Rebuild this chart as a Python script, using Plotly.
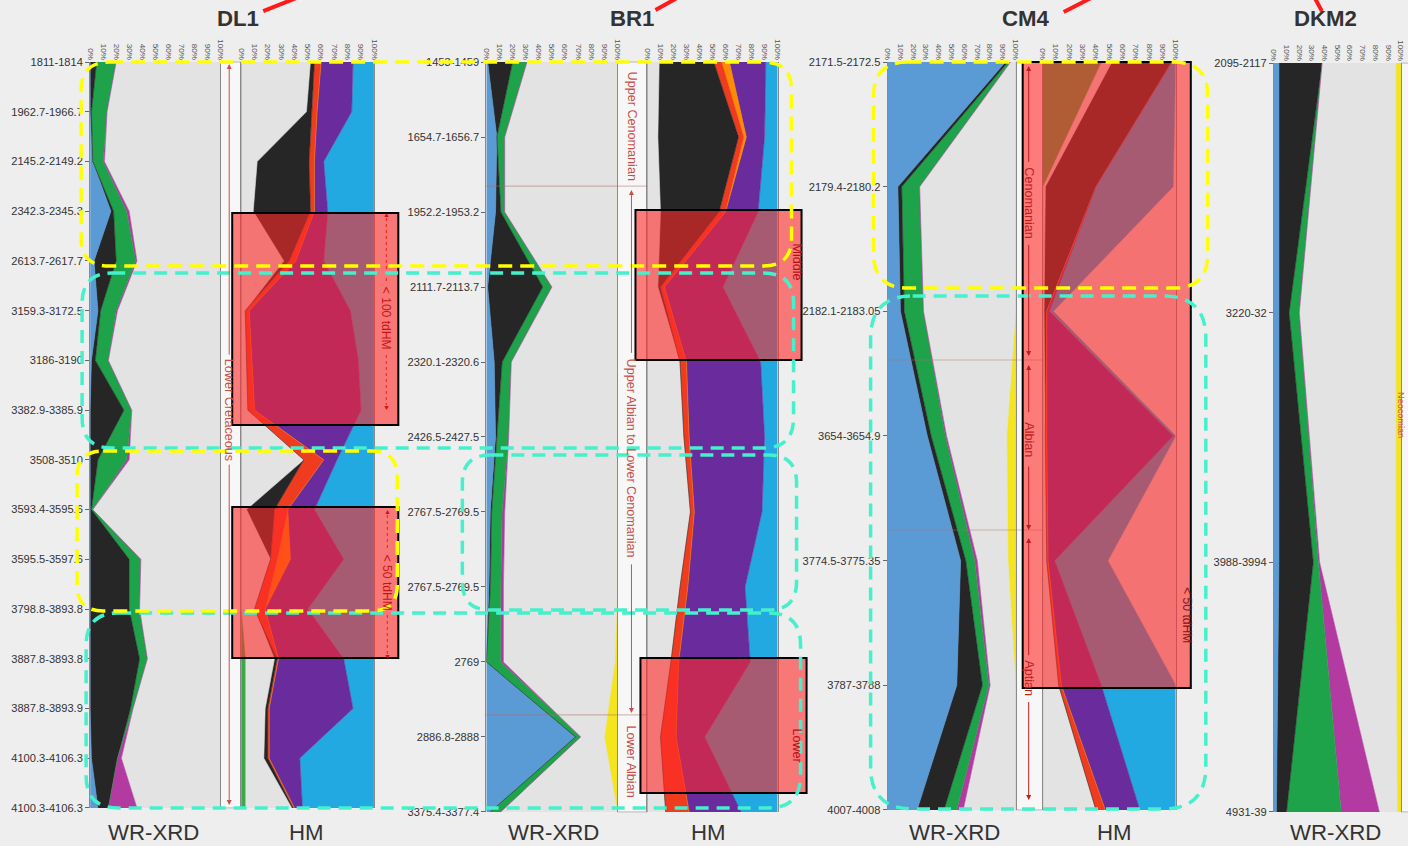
import plotly.graph_objects as go

W, H = 1408, 846

# ---------------- data ----------------
pct_ticks = [0, 10, 20, 30, 40, 50, 60, 70, 80, 90, 100]
pct_labels = ["0%", "10%", "20%", "30%", "40%", "50%", "60%", "70%", "80%", "90%", "100%"]

dl1_depths = ["1811-1814", "1962.7-1966.7", "2145.2-2149.2", "2342.3-2345.3", "2613.7-2617.7",
              "3159.3-3172.5", "3186-3190", "3382.9-3385.9", "3508-3510", "3593.4-3595.6",
              "3595.5-3597.6", "3798.8-3893.8", "3887.8-3893.8", "3887.8-3893.9",
              "4100.3-4106.3", "4100.3-4106.3"]
br1_depths = ["1453-1459", "1654.7-1656.7", "1952.2-1953.2", "2111.7-2113.7", "2320.1-2320.6",
              "2426.5-2427.5", "2767.5-2769.5", "2767.5-2769.5", "2769", "2886.8-2888",
              "3375.4-3377.4"]
cm4_depths = ["2171.5-2172.5", "2179.4-2180.2", "2182.1-2183.05", "3654-3654.9",
              "3774.5-3775.35", "3787-3788", "4007-4008"]
dkm2_depths = ["2095-2117", "3220-32", "3988-3994", "4931-39"]

# WR-XRD components (%), left to right
dl1_wr_blue = [0, 0, 2, 16, 3, 6, 1, 0, 0, 0, 0, 0, 0, 0, 1, 6]
dl1_wr_black = [5, 1, 0, 2, 17, 2, 3, 26, 6, 1, 30, 30, 38, 31, 20, 8]
dl1_wr_green = [15, 12, 8, 10, 15, 12, 10, 6, 22, 1, 9, 8, 6, 2, 0, 0]
dl1_wr_magenta = [0, 0, 1, 2, 1, 1, 0, 0, 2, 0, 0, 0, 0, 0, 3, 22]
dl1_wr_grey = [80, 87, 89, 70, 64, 79, 86, 68, 70, 98, 61, 62, 56, 67, 76, 64]
dl1_wr_yellow = [0, 0, 0, 0, 0, 0, 0, 0, 0, 0, 0, 0, 0, 0, 0, 0]

br1_wr_blue = [1, 8, 7, 1, 6, 7, 3, 2, 0, 68, 3]
br1_wr_black = [19, 0, 4, 42, 6, 1, 1, 1, 0, 0, 0]
br1_wr_green = [11, 6, 3, 7, 7, 9, 8, 8, 11, 4, 8]
br1_wr_magenta = [0, 0, 0, 0, 0, 0, 2, 2, 2, 0, 0]
br1_wr_grey = [69, 86, 86, 50, 81, 83, 86, 87, 85, 18, 89]
br1_wr_yellow = [0, 0, 0, 0, 0, 0, 0, 0, 2, 10, 0]

cm4_wr_blue = [92, 8, 10, 31, 57, 54, 23]
cm4_wr_black = [2, 3, 3, 3, 4, 20, 21]
cm4_wr_green = [2, 14, 15, 11, 7, 5, 10]
cm4_wr_magenta = [0, 0, 0, 1, 2, 1, 5]
cm4_wr_grey = [4, 75, 72, 47, 24, 20, 41]
cm4_wr_yellow = [0, 0, 0, 7, 6, 0, 0]

dkm2_wr_blue = [4, 4, 4, 2]
dkm2_wr_black = [34, 8, 27, 8]
dkm2_wr_green = [0, 8, 4, 43]
dkm2_wr_magenta = [0, 0, 1, 30]
dkm2_wr_grey = [58, 76, 60, 14]
dkm2_wr_yellow = [4, 4, 4, 3]

# HM components (%), left to right
dl1_hm_green = [0, 0, 0, 0, 0, 0, 0, 0, 0, 0, 0, 0, 3, 3, 3, 3]
dl1_hm_grey = [52, 49, 12, 9, 32, 3, 4, 5, 47, 4, 22, 10, 22, 15, 14, 35]
dl1_hm_black = [3, 4, 39, 43, 4, 0, 0, 0, 0, 21, 0, 0, 2, 2, 3, 1]
dl1_hm_red = [5, 4, 4, 3, 5, 3, 4, 5, 15, 10, 5, 8, 1, 1, 1, 1]
dl1_hm_orange = [0, 0, 0, 0, 0, 0, 0, 0, 0, 0, 10, 0, 0, 0, 0, 0]
dl1_hm_purple = [24, 26, 7, 10, 21, 76, 80, 80, 10, 20, 40, 32, 49, 63, 23, 6]
dl1_hm_blue = [16, 17, 38, 35, 38, 18, 12, 10, 28, 45, 23, 50, 23, 16, 56, 54]
dl1_hm_light = [0, 0, 0, 0, 0, 0, 0, 0, 0, 0, 0, 0, 0, 0, 0, 0]

br1_hm_green = [0, 0, 0, 0, 0, 0, 0, 0, 0, 0, 0]
br1_hm_grey = [9, 8, 10, 8, 25, 28, 33, 25, 18, 10, 14]
br1_hm_black = [42, 62, 45, 2, 0, 0, 0, 0, 0, 0, 0]
br1_hm_red = [6, 4, 5, 3, 5, 4, 3, 6, 6, 12, 18]
br1_hm_orange = [6, 2, 0, 0, 0, 0, 0, 0, 0, 0, 0]
br1_hm_purple = [28, 14, 25, 45, 57, 58, 52, 44, 55, 22, 40]
br1_hm_blue = [9, 10, 15, 42, 13, 10, 12, 25, 21, 56, 28]
br1_hm_light = [0, 0, 0, 0, 0, 0, 0, 0, 0, 0, 0]

cm4_hm_green = [44, 0, 0, 0, 0, 0, 0]
cm4_hm_grey = [8, 2, 1, 2, 3, 12, 40]
cm4_hm_black = [45, 38, 2, 0, 0, 0, 0]
cm4_hm_red = [0, 0, 0, 1, 1, 2, 7]
cm4_hm_orange = [0, 0, 0, 0, 0, 0, 0]
cm4_hm_purple = [0, 0, 2, 95, 5, 30, 26]
cm4_hm_blue = [3, 58, 3, 2, 40, 56, 27]
cm4_hm_light = [0, 2, 92, 0, 51, 0, 0]

wr_colors = ["#5b9bd5", "#262626", "#1ea34a", "#b23aa0", "#e3e3e3", "#f5e51e"]
hm_colors = ["#3aaa48", "#e3e3e3", "#262626", "#f03c1e", "#ff8c00", "#6a2c9c", "#22a9e1", "#e6e2e2"]

# ---------------- helpers ----------------
# the photographed page comes out slightly shrunk around its centre; compensate
SX, SY = 0.993, 0.986
CX, CY = W / 2, H / 2


def X(x):
    return (CX + (x - CX) / SX) / W


def Y(y):
    return 1 - (CY + (y - CY) / SY) / H


def clamp(v):
    return max(0.0, min(1.0, v))


def fs(size):
    return size / 0.99


fig = go.Figure()

panels = [
    ("dl1_wr", dl1_depths, [dl1_wr_blue, dl1_wr_black, dl1_wr_green, dl1_wr_magenta, dl1_wr_grey, dl1_wr_yellow], wr_colors, (90, 220, 62, 808), True),
    ("dl1_hm", dl1_depths, [dl1_hm_green, dl1_hm_grey, dl1_hm_black, dl1_hm_red, dl1_hm_orange, dl1_hm_purple, dl1_hm_blue, dl1_hm_light], hm_colors, (241, 374, 62, 808), False),
    ("br1_wr", br1_depths, [br1_wr_blue, br1_wr_black, br1_wr_green, br1_wr_magenta, br1_wr_grey, br1_wr_yellow], wr_colors, (486, 617, 62, 812), True),
    ("br1_hm", br1_depths, [br1_hm_green, br1_hm_grey, br1_hm_black, br1_hm_red, br1_hm_orange, br1_hm_purple, br1_hm_blue, br1_hm_light], hm_colors, (647, 777, 62, 812), False),
    ("cm4_wr", cm4_depths, [cm4_wr_blue, cm4_wr_black, cm4_wr_green, cm4_wr_magenta, cm4_wr_grey, cm4_wr_yellow], wr_colors, (887, 1015, 62, 810), True),
    ("cm4_hm", cm4_depths, [cm4_hm_green, cm4_hm_grey, cm4_hm_black, cm4_hm_red, cm4_hm_orange, cm4_hm_purple, cm4_hm_blue, cm4_hm_light], hm_colors, (1042, 1175, 62, 810), False),
    ("dkm2_wr", dkm2_depths, [dkm2_wr_blue, dkm2_wr_black, dkm2_wr_green, dkm2_wr_magenta, dkm2_wr_grey, dkm2_wr_yellow], wr_colors, (1273, 1400, 63, 812), True),
]

layout_axes = {}
for n, (key, depths, series, colors, box, ticks) in enumerate(panels, 1):
    xa = "x" if n == 1 else f"x{n}"
    ya = "y" if n == 1 else f"y{n}"
    ys = list(range(len(depths)))
    for vals, col in zip(series, colors):
        fig.add_trace(go.Scatter(
            x=vals, y=ys, xaxis=xa, yaxis=ya, mode="lines",
            stackgroup=key, orientation="h", groupnorm="percent",
            line=dict(color=col, width=0.6), fillcolor=col,
            hoverinfo="skip", showlegend=False))
    x0, x1, y0, y1 = box
    layout_axes["xaxis" if n == 1 else f"xaxis{n}"] = dict(
        domain=[clamp(X(x0)), clamp(X(x1))], range=[0, 100], anchor=ya, side="top",
        tickmode="array", tickvals=pct_ticks, ticktext=pct_labels, tickangle=90,
        tickfont=dict(size=fs(8), color="#555555", family="Liberation Sans"),
        showgrid=False, zeroline=False, showline=False, ticks="", fixedrange=True)
    layout_axes["yaxis" if n == 1 else f"yaxis{n}"] = dict(
        domain=[clamp(Y(y1)), clamp(Y(y0))], range=[len(depths) - 1, 0], anchor=xa,
        tickmode="array", tickvals=ys, ticktext=depths,
        showticklabels=ticks, ticks="outside" if ticks else "", ticklen=4, tickcolor="#666666",
        tickfont=dict(size=fs(11), color="#333333", family="Liberation Sans"),
        showgrid=False, zeroline=False, showline=True, linecolor="#8a8a8a", linewidth=1,
        mirror=True, fixedrange=True)

shapes = []
# stratigraphy columns
for (cx0, cx1, cy0, cy1) in [(220, 241, 62, 808), (617, 647, 62, 812), (1015, 1042, 62, 810), (1400, 1412, 63, 812)]:
    shapes.append(dict(type="rect", xref="paper", yref="paper", x0=X(cx0), x1=X(cx1), y0=Y(cy1), y1=Y(cy0),
                       fillcolor="#f7f7f7", line=dict(color="#b8b8b8", width=1), layer="below"))

# faint stratigraphic boundaries
for (bx0, bx1, by) in [(486, 647, 186), (486, 647, 715), (887, 1042, 360), (887, 1042, 530)]:
    shapes.append(dict(type="line", xref="paper", yref="paper", x0=X(bx0), x1=X(bx1), y0=Y(by), y1=Y(by),
                       line=dict(color="rgba(170,110,100,0.45)", width=1.2), layer="above"))

# tdHM dotted guides
for (gx, gy0, gy1) in [(386, 218, 282), (386, 355, 405), (387, 515, 550), (387, 615, 655)]:
    shapes.append(dict(type="line", xref="paper", yref="paper", x0=X(gx), x1=X(gx), y0=Y(gy0), y1=Y(gy1),
                       line=dict(color="#c81414", width=1, dash="dot"), layer="above"))

# red overlay boxes
for (rx0, ry0, rx1, ry1) in [(232, 213, 398, 425), (232, 507, 398, 658), (635, 210, 801, 360),
                             (640, 658, 806, 793), (1022, 62, 1190, 688)]:
    shapes.append(dict(type="rect", xref="paper", yref="paper", x0=X(rx0), x1=X(rx1), y0=Y(ry1), y1=Y(ry0),
                       fillcolor="rgba(255,40,40,0.6)", line=dict(color="#000000", width=2), layer="above"))


def rrect(x0, y0, x1, y1, r):
    return (f"M {X(x0 + r)},{Y(y0)} L {X(x1 - r)},{Y(y0)} Q {X(x1)},{Y(y0)} {X(x1)},{Y(y0 + r)} "
            f"L {X(x1)},{Y(y1 - r)} Q {X(x1)},{Y(y1)} {X(x1 - r)},{Y(y1)} "
            f"L {X(x0 + r)},{Y(y1)} Q {X(x0)},{Y(y1)} {X(x0)},{Y(y1 - r)} "
            f"L {X(x0)},{Y(y0 + r)} Q {X(x0)},{Y(y0)} {X(x0 + r)},{Y(y0)} Z")


yellow_boxes = [(81, 62, 791, 266, 28), (77, 451, 397, 611, 26), (873, 62, 1207, 288, 34)]
cyan_boxes = [(82, 273, 793, 448, 30), (462, 455, 796, 610, 28), (86, 613, 800, 808, 32), (870, 296, 1205, 809, 42)]
for (a, b, c, d, r) in cyan_boxes:
    shapes.append(dict(type="path", xref="paper", yref="paper", path=rrect(a, b, c, d, r),
                       line=dict(color="#45f0cc", width=3.5, dash="13px,8px"), layer="above"))
for (a, b, c, d, r) in yellow_boxes:
    shapes.append(dict(type="path", xref="paper", yref="paper", path=rrect(a, b, c, d, r),
                       line=dict(color="#ffff00", width=3.5, dash="14px,8px"), layer="above"))

# decorative red map lines near titles
for (lx0, ly0, lx1, ly1) in [(263, 11, 306, -6), (655, 10, 680, -4), (1063, 12, 1094, -4), (1314, -2, 1321, 11)]:
    shapes.append(dict(type="line", xref="paper", yref="paper", x0=X(lx0), y0=Y(ly0), x1=X(lx1), y1=Y(ly1),
                       line=dict(color="#ff1a1a", width=4), layer="above"))

annotations = []


def text(x, y, t, size, color, angle=0, bold=False, family="Liberation Sans"):
    annotations.append(dict(x=X(x), y=Y(y), xref="paper", yref="paper", text=f"<b>{t}</b>" if bold else t,
                            showarrow=False, textangle=angle, xanchor="center", yanchor="middle",
                            font=dict(size=fs(size), color=color, family=family)))


def arrow(x, yh, yt, color):
    annotations.append(dict(x=X(x), y=Y(yh), xref="paper", yref="paper", text="", showarrow=True,
                            ax=0, ay=(yt - yh) / SY, axref="pixel", ayref="pixel", arrowhead=2, arrowsize=1,
                            arrowwidth=1, arrowcolor=color, standoff=0))


# titles
for (tx, t) in [(238, "DL1"), (632, "BR1"), (1025, "CM4"), (1325, "DKM2")]:
    text(tx, 18, t, 22, "#333333", bold=True)

# bottom labels
for (bx, t) in [(153, "WR-XRD"), (306, "HM"), (553, "WR-XRD"), (708, "HM"), (954, "WR-XRD"), (1114, "HM"), (1335, "WR-XRD")]:
    text(bx, 833, t, 22, "#333333")

sc = "#c9504a"
# DL1 stratigraphy
text(229, 410, "Lower Cretaceous", 12.5, sc, angle=90)
arrow(229, 64, 352, sc)
arrow(229, 805, 468, sc)
# BR1 stratigraphy
text(631, 126, "Upper Cenomanian", 12.5, sc, angle=90)
arrow(631, 190, 352, sc)
text(631, 458, "Upper Albian to Lower Cenomanian", 12.5, sc, angle=90)
arrow(631, 713, 565, sc)
text(631, 762, "Lower Albian", 12.5, sc, angle=90)
# CM4 stratigraphy
cc = "#c41c1c"
arrow(1028, 66, 162, cc)
text(1028, 203, "Cenomanian", 12.5, cc, angle=90)
arrow(1028, 356, 245, cc)
arrow(1028, 365, 413, cc)
text(1028, 440, "Albian", 12.5, cc, angle=90)
arrow(1028, 530, 466, cc)
arrow(1028, 538, 655, cc)
text(1028, 678, "Aptian", 12.5, cc, angle=90)
arrow(1028, 800, 702, cc)
# DKM2 stratigraphy (at the right edge)
text(1400, 415, "Neocomian", 9, sc, angle=90)
# BR1 right column
text(796, 262, "Middle", 12.5, "#b81010", angle=90)
text(797, 745, "Lower", 12.5, "#b81010", angle=90)

# tdHM labels
tc = "#c81414"
text(386, 318, "&lt; 100 tdHM", 12, tc, angle=90)
text(386, 214, "▲", 7, tc)
text(386, 407, "▼", 7, tc)
text(387, 583, "&lt; 50 tdHM", 12, tc, angle=90)
text(387, 512, "▲", 7, tc)
text(387, 657, "▼", 7, tc)
text(1186, 615, "&lt; 50 tdHM", 12, "#8a1010", angle=90)

fig.update_layout(
    width=W, height=H, autosize=False,
    margin=dict(l=0, r=0, t=0, b=0),
    paper_bgcolor="#eeeeee", plot_bgcolor="#e3e3e3",
    showlegend=False, shapes=shapes, annotations=annotations,
    **layout_axes)

fig.write_html(
    "out.html",
    config={"displayModeBar": False, "staticPlot": True},
    post_script="document.documentElement.style.margin='0';document.documentElement.style.padding='0';"
                "document.documentElement.style.overflow='hidden';"
                "document.body.style.margin='0';document.body.style.padding='0';"
                "document.body.style.overflow='hidden';document.body.style.background='#eeeeee';")
